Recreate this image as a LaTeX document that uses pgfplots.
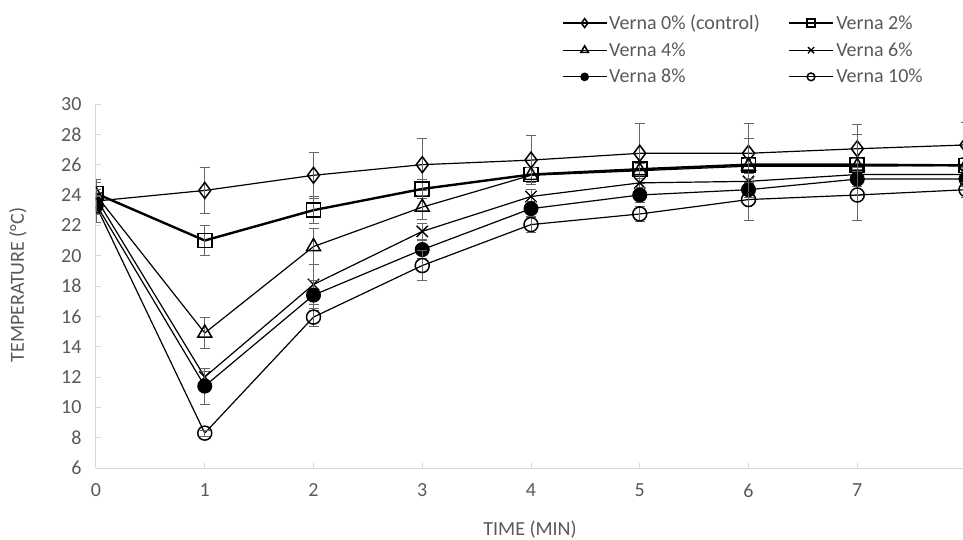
\documentclass[border=0pt]{standalone}
\usepackage{fontspec}
\setmainfont{Carlito}
\usepackage{pgfplots}
\pgfplotsset{compat=1.18}
\definecolor{txtgray}{HTML}{595959}
\definecolor{axgray}{HTML}{D9D9D9}
\begin{document}
\begin{tikzpicture}
\begin{axis}[
  name=ax, scale only axis, width=870pt, height=364pt,
  xmin=0, xmax=8, ymin=6, ymax=30,
  xtick={0,...,7}, ytick={6,8,...,30},
  axis x line*=bottom, axis y line*=left,
  axis line style={axgray, line width=1pt},
  tick style={axgray, line width=1pt}, tick align=inside, major tick length=5pt,
  font=\fontsize{20}{24}\selectfont,
  tick label style={txtgray},
  /pgf/number format/assume math mode=true,
  xticklabel style={yshift=-12pt}, yticklabel style={xshift=-11pt},
  xlabel={TIME (MIN)}, ylabel={TEMPERATURE (°C)},
  label style={txtgray},
  xlabel style={at={(axis description cs:0.4989,-0.170)}, anchor=center},
  ylabel style={at={(axis description cs:-0.0897,0.503)}, anchor=center},
  legend columns=2,
  legend cell align=left,
  legend style={at={(0.532,1.256)}, anchor=north west, draw=none, fill=none,
    text=txtgray, font=\fontsize{20}{24}\selectfont, row sep=7.5pt,
    /tikz/every even column/.append style={column sep=26pt}},
  legend image code/.code={\draw[mark repeat=2,mark phase=2,/tikz/every mark/.append style={scale=0.55}] plot coordinates {(0pt,0pt) (22pt,0pt) (44pt,0pt)};},
  clip marker paths=true,
  error bars/y dir=both, error bars/y explicit,
  error bars/error bar style={black!60, line width=0.8pt, solid},
  error bars/error mark options={rotate=90, mark size=5pt, black!60, line width=0.8pt},
  every axis plot/.append style={black, line width=1.2pt},
]
% Verna 0% (control)
\addplot[mark=diamond, mark size=8pt, mark options={fill=white, line width=1.5pt}] coordinates {
 (0,23.6) +- (0,1.4) (1,24.3) +- (0,1.5) (2,25.3) +- (0,1.5) (3,26.0) +- (0,1.7)
 (4,26.3) +- (0,1.6) (5,26.75) +- (0,2.0) (6,26.75) +- (0,2.0) (7,27.05) +- (0,1.6) (8,27.3) +- (0,1.5)};
\addlegendentry{Verna 0\% (control)}
% Verna 2%
\addplot[line width=2.4pt, mark=square, mark size=7pt, mark options={fill=white, line width=1.8pt}] coordinates {
 (0,24.1) +- (0,0.9) (1,21.0) +- (0,1.0) (2,23.0) +- (0,0.9) (3,24.4) +- (0,0.6)
 (4,25.35) +- (0,0.5) (5,25.7) +- (0,0.5) (6,26.0) +- (0,1.7) (7,26.0) +- (0,2.0) (8,25.95) +- (0,0.5)};
\addlegendentry{Verna 2\%}
% Verna 4%
\addplot[mark=triangle, mark size=8pt, mark options={fill=white, line width=1.5pt}] coordinates {
 (0,24.0) +- (0,0.8) (1,14.9) +- (0,1.0) (2,20.6) +- (0,1.2) (3,23.2) +- (0,0.8)
 (4,25.3) +- (0,0.5) (5,25.6) +- (0,0.5) (6,25.9) +- (0,0.5) (7,25.9) +- (0,0.5) (8,25.95) +- (0,0.5)};
\addlegendentry{Verna 4\%}
% Verna 6%
\addplot[mark=x, mark size=8pt, mark options={line width=1.3pt}] coordinates {
 (0,23.8) +- (0,0.6) (1,12.0) +- (0,0.4) (2,18.1) +- (0,1.3) (3,21.6) +- (0,0.5)
 (4,23.9) +- (0,0.5) (5,24.8) +- (0,0.5) (6,24.9) +- (0,0.5) (7,25.35) +- (0,0.5) (8,25.35) +- (0,0.5)};
\addlegendentry{Verna 6\%}
% Verna 8%
\addplot[mark=*, mark size=7pt, mark options={fill=black, line width=1pt}] coordinates {
 (0,23.4) +- (0,0.6) (1,11.4) +- (0,1.2) (2,17.4) +- (0,1.0) (3,20.4) +- (0,0.6)
 (4,23.1) +- (0,0.5) (5,24.0) +- (0,0.5) (6,24.35) +- (0,0.5) (7,25.05) +- (0,0.5) (8,25.05) +- (0,0.5)};
\addlegendentry{Verna 8\%}
% Verna 10%
\addplot[mark=o, mark size=7pt, mark options={fill=white, line width=1.5pt}] coordinates {
 (0,23.3) +- (0,0.6) (1,8.3) +- (0,0.2) (2,15.95) +- (0,0.6) (3,19.35) +- (0,1.0)
 (4,22.05) +- (0,0.5) (5,22.75) +- (0,0.5) (6,23.7) +- (0,1.4) (7,24.0) +- (0,1.7) (8,24.35) +- (0,0.5)};
\addlegendentry{Verna 10\%}
\end{axis}
\pgfresetboundingbox
\path ([shift={(-96pt,-71pt)}]ax.south west) rectangle ([shift={(867pt,468pt)}]ax.south west);
\end{tikzpicture}
\end{document}
